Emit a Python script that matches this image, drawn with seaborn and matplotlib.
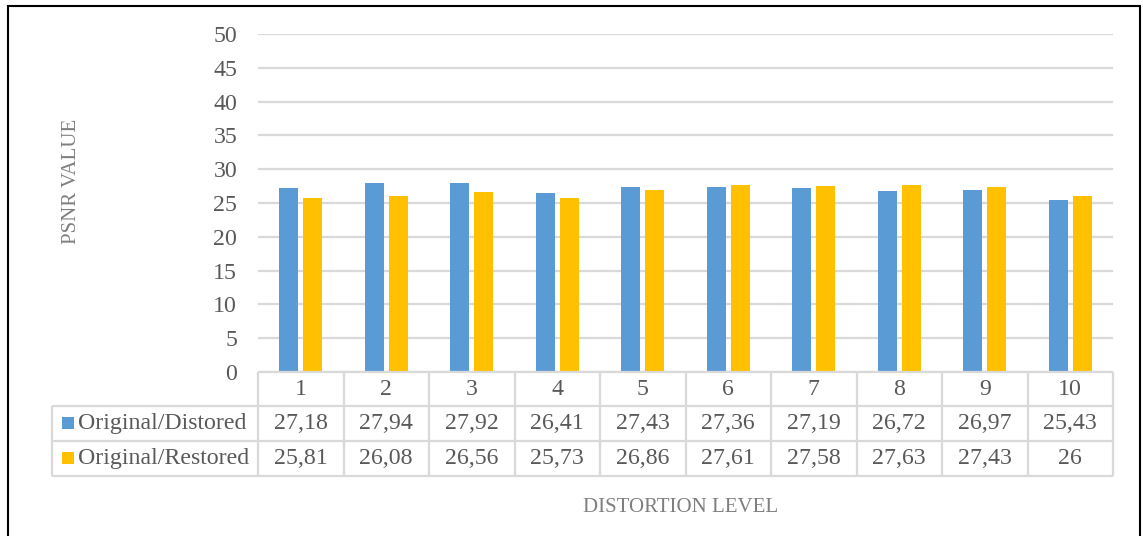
import numpy as np
import pandas as pd
import matplotlib
matplotlib.use('Agg')
import matplotlib.pyplot as plt
from matplotlib.patches import Rectangle
import seaborn as sns

# ── data ─────────────────────────────────────────────────────────────────────
levels    = [1, 2, 3, 4, 5, 6, 7, 8, 9, 10]
distorted = [27.18, 27.94, 27.92, 26.41, 27.43, 27.36, 27.19, 26.72, 26.97, 25.43]
restored  = [25.81, 26.08, 26.56, 25.73, 26.86, 27.61, 27.58, 27.63, 27.43, 26.00]
series    = ['Original/Distored', 'Original/Restored']
colors    = ['#5B9BD5', '#FFC000']
yticks    = list(range(0, 55, 5))

TXT = '#595959'
TITLE = '#7F7F7F'
GRID = '#D9D9D9'
FS = 17.2

df = pd.DataFrame({
    'level': levels * 2,
    'psnr': distorted + restored,
    'series': [series[0]] * len(levels) + [series[1]] * len(levels),
})

sns.set_style('white')
plt.rcParams['font.family'] = ['Liberation Serif', 'DejaVu Serif']

fig = plt.figure(figsize=(11.43, 5.36), dpi=100)
ax = fig.add_axes([258 / 1143, 1 - 372 / 536, 855 / 1143, 338 / 536])

sns.barplot(data=df, x='level', y='psnr', hue='series', palette=colors,
            width=0.56, gap=0.2, saturation=1, linewidth=0, legend=False, ax=ax)

ax.set_ylim(0, 50)
ax.set_xlim(-0.5, len(levels) - 0.5)
ax.set_yticks(yticks)
ax.set_yticklabels([str(t) for t in yticks], fontsize=FS, color=TXT)
ax.tick_params(axis='y', length=0, pad=15)
ax.set_xticks([])
ax.set_xlabel('')
ax.set_ylabel('')
for s in ax.spines.values():
    s.set_visible(False)
ax.set_axisbelow(True)
ax.grid(True, axis='y', color=GRID, linewidth=1.6)

# ── data table under the plot ────────────────────────────────────────────────
tr = ax.get_xaxis_transform()
rows_y = [0, -0.1006, -0.2041, -0.3077]
label_x = -0.2409  # left edge of the label column, axes fraction
lkw = dict(color=GRID, linewidth=1.6, clip_on=False, solid_capstyle='butt')

n = len(levels)
for i in range(n + 1):
    ax.plot([i - 0.5, i - 0.5], [rows_y[0], rows_y[3]], transform=tr, **lkw)
ax.plot([-0.5, n - 0.5], [rows_y[0], rows_y[0]], transform=tr, **lkw)
for y in rows_y[1:]:
    ax.plot([label_x, 1], [y, y], transform=ax.transAxes, **lkw)
ax.plot([label_x, label_x], [rows_y[1], rows_y[3]], transform=ax.transAxes, **lkw)

def fmt(v):
    return f'{v:g}'.replace('.', ',')

hdr_c = (rows_y[0] + rows_y[1]) / 2
r1_c = (rows_y[1] + rows_y[2]) / 2
r2_c = (rows_y[2] + rows_y[3]) / 2
for i, lv in enumerate(levels):
    ax.text(i, hdr_c, str(lv), transform=tr, ha='center', va='center',
            fontsize=FS, color=TXT)
    ax.text(i, r1_c, fmt(distorted[i]), transform=tr, ha='center', va='center',
            fontsize=FS, color=TXT)
    ax.text(i, r2_c, fmt(restored[i]), transform=tr, ha='center', va='center',
            fontsize=FS, color=TXT)

for name, col, yc in zip(series, colors, [r1_c, r2_c]):
    ax.text(label_x + 26 / 855, yc, name, transform=ax.transAxes,
            ha='left', va='center', fontsize=FS, color=TXT)
    sq = 12
    y_px = 372 - yc * 338
    fig.patches.append(Rectangle((62 / 1143, 1 - (y_px + sq / 2) / 536),
                                 sq / 1143, sq / 536, transform=fig.transFigure,
                                 facecolor=col, edgecolor='none'))

# ── axis titles and frame ────────────────────────────────────────────────────
fig.text(72 / 1143, 1 - 181 / 536, 'PSNR VALUE', rotation=90, ha='center',
         va='center', fontsize=15, color=TITLE)
fig.text(681 / 1143, 1 - 508 / 536, 'DISTORTION LEVEL', ha='center',
         va='center', fontsize=15, color=TITLE)

fig.patches.append(Rectangle((8 / 1143, -0.02), 1132 / 1143, 1.02 - 6 / 536,
                             transform=fig.transFigure, fill=False,
                             edgecolor='black', linewidth=1.5))

plt.savefig('out.png', dpi=100)
plt.close()
